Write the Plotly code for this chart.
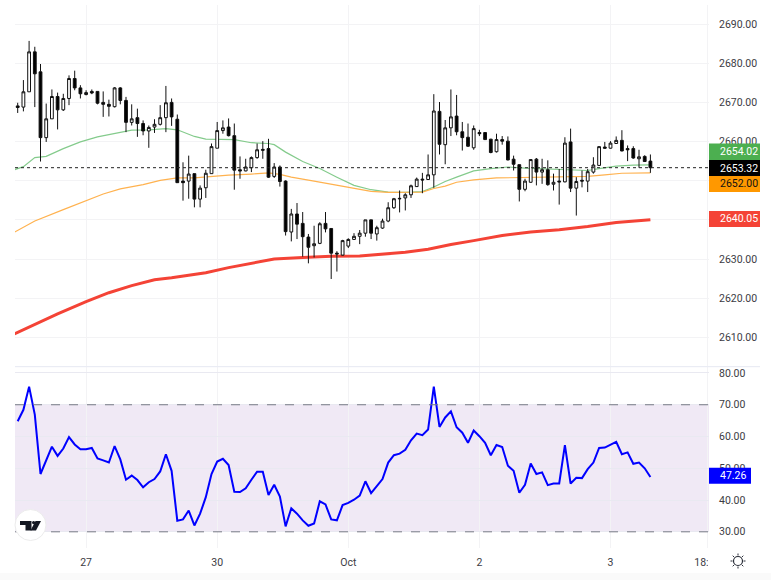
import math
import plotly.graph_objects as go

# OHLC (one candle per hour, index = position on the x axis)
opens = [2669.1, 2668.8, 2672.7, 2682.9, 2677.8, 2661.0, 2665.8, 2671.5, 2668.1, 2671.0,
         2676.1, 2673.7, 2672.0, 2672.8, 2672.8, 2670.0, 2669.5, 2668.9, 2673.7, 2670.5,
         2664.9, 2666.1, 2664.6, 2662.7, 2663.7, 2664.4, 2666.1, 2670.0, 2665.7, 2649.9,
         2649.9, 2651.8, 2645.3, 2648.2, 2651.8, 2658.3, 2662.8, 2663.7, 2661.5, 2652.8,
         2652.5, 2653.3, 2655.9, 2658.0, 2658.2, 2651.1, 2653.5, 2649.9, 2636.9, 2641.5,
         2639.1, 2635.6, 2633.4, 2634.0, 2639.1, 2637.8, 2631.5, 2631.0, 2633.3, 2635.0,
         2635.8, 2636.6, 2640.0, 2636.4, 2637.9, 2639.7, 2643.1, 2645.5, 2645.6, 2646.4,
         2648.5, 2650.4, 2650.3, 2651.5, 2667.7, 2659.2, 2663.5, 2666.5, 2662.5, 2661.1,
         2658.4, 2662.3, 2662.3, 2660.6, 2657.4, 2660.5, 2660.1, 2655.5, 2654.1, 2647.8,
         2649.6, 2655.5, 2652.2, 2652.8, 2649.1, 2649.9, 2649.7, 2659.9, 2648.1, 2650.1,
         2649.9, 2652.2, 2653.9, 2658.6, 2658.3, 2659.5, 2660.3, 2658.2, 2658.2, 2655.6,
         2656.2, 2655.0]
highs = [2669.9, 2675.7, 2685.7, 2684.2, 2679.8, 2669.7, 2673.3, 2672.5, 2672.2, 2676.9,
         2678.1, 2674.4, 2673.1, 2673.3, 2672.8, 2672.8, 2670.7, 2673.9, 2673.9, 2671.4,
         2669.5, 2668.4, 2665.4, 2664.1, 2665.7, 2669.3, 2674.2, 2671.0, 2666.9, 2654.7,
         2656.4, 2651.8, 2648.8, 2652.8, 2659.5, 2665.0, 2665.4, 2665.9, 2664.6, 2656.2,
         2655.6, 2656.2, 2659.5, 2660.1, 2660.7, 2654.5, 2653.9, 2650.1, 2642.8, 2644.3,
         2642.0, 2636.4, 2638.5, 2639.4, 2642.0, 2637.8, 2632.0, 2634.9, 2635.3, 2636.6,
         2637.4, 2640.0, 2640.0, 2638.5, 2640.3, 2644.5, 2645.6, 2647.5, 2646.8, 2649.0,
         2650.8, 2652.0, 2656.7, 2672.1, 2670.1, 2665.5, 2673.3, 2671.9, 2665.0, 2664.6,
         2664.1, 2663.0, 2662.3, 2660.7, 2662.0, 2661.4, 2661.3, 2656.4, 2654.1, 2650.5,
         2655.4, 2655.8, 2655.6, 2655.2, 2651.8, 2653.0, 2661.1, 2663.3, 2650.9, 2652.6,
         2653.0, 2656.0, 2658.8, 2659.9, 2660.1, 2661.3, 2662.9, 2659.0, 2658.8, 2657.9,
         2656.5, 2656.7]
lows = [2667.3, 2667.7, 2672.7, 2668.8, 2654.9, 2659.9, 2665.8, 2663.1, 2667.8, 2669.3,
        2673.1, 2671.0, 2671.8, 2672.1, 2669.5, 2666.3, 2666.4, 2668.7, 2669.5, 2662.4,
        2664.1, 2661.2, 2661.6, 2658.4, 2662.2, 2664.1, 2662.4, 2664.0, 2649.5, 2644.9,
        2645.4, 2643.2, 2643.2, 2645.6, 2651.8, 2658.3, 2662.0, 2661.3, 2647.7, 2650.5,
        2652.4, 2652.2, 2655.6, 2655.6, 2650.7, 2650.7, 2648.5, 2636.0, 2634.5, 2635.1,
        2630.6, 2628.9, 2630.4, 2633.8, 2636.8, 2624.9, 2626.8, 2630.9, 2632.8, 2634.9,
        2633.8, 2635.7, 2635.1, 2634.7, 2637.7, 2639.4, 2642.8, 2641.9, 2642.4, 2645.6,
        2648.4, 2646.8, 2650.2, 2648.2, 2656.7, 2654.2, 2661.4, 2661.6, 2657.7, 2658.6,
        2657.9, 2661.4, 2660.5, 2657.0, 2657.2, 2659.2, 2655.2, 2652.6, 2644.7, 2647.3,
        2649.5, 2648.8, 2649.2, 2648.7, 2647.5, 2643.9, 2649.6, 2647.1, 2641.1, 2648.3,
        2647.1, 2651.8, 2653.9, 2658.2, 2658.2, 2659.4, 2657.5, 2655.0, 2655.6, 2653.3,
        2654.8, 2652.0]
closes = [2668.7, 2672.7, 2682.9, 2677.3, 2661.0, 2665.8, 2671.5, 2668.1, 2671.0, 2676.1,
          2673.7, 2672.2, 2672.5, 2672.4, 2669.8, 2669.5, 2669.0, 2673.7, 2670.5, 2664.9,
          2665.8, 2664.6, 2662.7, 2663.6, 2664.4, 2666.1, 2669.9, 2666.3, 2649.5, 2649.5,
          2651.7, 2645.3, 2648.1, 2651.9, 2658.7, 2662.8, 2663.5, 2661.5, 2652.7, 2652.5,
          2653.5, 2655.9, 2657.9, 2657.8, 2650.9, 2653.5, 2649.8, 2637.0, 2641.5, 2638.9,
          2635.7, 2633.0, 2633.9, 2639.0, 2637.7, 2631.5, 2631.3, 2634.7, 2635.0, 2635.8,
          2636.6, 2640.0, 2636.6, 2638.0, 2639.7, 2643.1, 2645.4, 2645.4, 2646.4, 2648.7,
          2650.4, 2650.2, 2651.5, 2667.8, 2659.3, 2663.5, 2666.3, 2662.5, 2661.0, 2658.8,
          2663.3, 2662.0, 2660.5, 2657.2, 2660.5, 2660.1, 2655.3, 2654.2, 2647.8, 2649.9,
          2655.4, 2652.2, 2652.8, 2649.0, 2649.6, 2649.7, 2659.6, 2648.1, 2649.8, 2649.9,
          2652.3, 2654.0, 2658.7, 2658.3, 2659.6, 2660.3, 2657.6, 2657.9, 2655.8, 2656.1,
          2654.9, 2653.32]

# moving averages, read every few candles
green_idx = [-1, 1, 3, 5, 8, 11, 14, 17, 20, 23, 26, 28, 31, 33, 36, 38, 41, 44, 45, 47, 50, 53, 56, 59,
             62, 65, 68, 71, 73, 75, 77, 80, 83, 86, 89, 92, 95, 98, 100, 102, 105, 108, 111]
green_ma = [2652.6, 2653.6, 2655.9, 2656.2, 2658.2, 2659.9, 2661.2, 2662.0, 2662.9, 2663.0, 2663.3, 2663.0,
            2661.3, 2660.6, 2660.5, 2660.5, 2659.7, 2659.5, 2659.2, 2657.3, 2654.9, 2653.1, 2650.9, 2648.8,
            2647.7, 2647.1, 2647.0, 2647.2, 2648.4, 2649.8, 2650.9, 2652.5, 2653.1, 2653.5, 2653.2, 2653.0,
            2652.8, 2652.6, 2652.6, 2653.1, 2653.7, 2654.0, 2654.02]
orange_idx = [-1, 3, 8, 12, 15, 18, 22, 25, 28, 31, 34, 37, 41, 44, 46, 48, 52, 56, 59, 62, 65, 68, 71,
              73, 75, 77, 80, 84, 88, 92, 96, 100, 103, 106, 111]
orange_ma = [2636.5, 2639.7, 2642.6, 2644.8, 2646.6, 2647.9, 2649.0, 2650.1, 2650.7, 2650.7, 2651.1, 2651.4,
             2651.7, 2652.0, 2651.6, 2650.9, 2649.9, 2648.8, 2648.0, 2647.3, 2647.0, 2647.0, 2647.1, 2648.0,
             2648.6, 2649.6, 2650.2, 2650.7, 2650.8, 2650.8, 2650.9, 2651.1, 2651.5, 2651.9, 2652.0]
red_idx = [-1, 3, 7, 12, 16, 20, 24, 27, 30, 33, 37, 41, 45, 50, 55, 60, 64, 68, 72, 76, 80, 85, 90, 95,
           100, 105, 111]
red_ma = [2610.6, 2613.4, 2616.0, 2619.1, 2621.4, 2623.2, 2624.7, 2625.2, 2625.9, 2626.5, 2627.8, 2628.9,
          2630.0, 2630.4, 2630.7, 2630.8, 2631.2, 2631.7, 2632.5, 2633.7, 2634.7, 2636.0, 2636.9, 2637.5,
          2638.3, 2639.3, 2640.05]

rsi = [64.8, 68.4, 75.7, 66.9, 48.2, 52.5, 56.8, 53.9, 56.2, 59.8, 57.5, 56.0, 56.0, 56.4, 53.1, 52.5,
       51.8, 57.0, 52.8, 46.4, 47.7, 46.3, 44.0, 45.6, 46.6, 49.0, 54.4, 49.2, 33.5, 33.9, 36.7, 32.0,
       35.7, 40.9, 48.2, 52.1, 53.0, 51.0, 42.6, 42.5, 43.7, 46.4, 48.9, 48.9, 41.6, 44.8, 41.1, 31.7,
       37.4, 35.7, 33.6, 31.9, 32.6, 39.6, 38.6, 33.9, 33.6, 38.4, 39.1, 40.1, 41.4, 45.9, 42.2, 44.4,
       46.6, 51.8, 54.1, 54.6, 55.8, 58.8, 60.9, 60.4, 62.2, 75.7, 63.0, 66.0, 67.9, 62.9, 61.2, 58.0,
       61.9, 60.1, 58.0, 54.1, 57.3, 56.7, 50.8, 49.2, 42.3, 44.8, 51.5, 48.2, 48.7, 44.7, 45.2, 45.2,
       57.3, 45.2, 47.0, 46.9, 49.7, 51.8, 56.4, 56.5, 57.5, 58.3, 54.4, 55.0, 51.4, 51.8, 50.0, 47.26]

# axis ticks
date_ticks = [12, 35, 58, 81, 104, 121]
date_labels = ["27", "30", "Oct", "2", "3", "18:00"]
price_ticks = [2610, 2620, 2630, 2640, 2650, 2660, 2670, 2680, 2690]
# 2640 and 2650 sit behind the tags in the original, only their grid lines show
price_labels = ["2610.00", "2620.00", "2630.00", "", "", "2660.00", "2670.00", "2680.00", "2690.00"]
rsi_ticks = [30, 40, 50, 60, 70, 80]

# last values shown on the price scale
last_green = 2654.02
last_price = 2653.32
last_orange = 2652.00
last_red = 2640.05
last_rsi = 47.26

W, H = 771, 580
GRID = "#f3f3f5"
TEXT = "#3c3c44"
FONT = "Roboto"


# pixel position -> paper coordinates
def pxx(p):
    return p / W


def pxy(p):
    return 1 - p / H


candle_idx = list(range(len(opens)))

fig = go.Figure()

# lines go under the candles
fig.add_trace(go.Scatter(x=green_idx, y=green_ma, mode="lines", zorder=-1,
                         line=dict(color="#84cb8c", width=1.2)))
fig.add_trace(go.Scatter(x=orange_idx, y=orange_ma, mode="lines", zorder=-1,
                         line=dict(color="#ffb24f", width=1.2)))
fig.add_trace(go.Scatter(x=red_idx, y=red_ma, mode="lines", zorder=-1,
                         line=dict(color="#f44336", width=3)))
fig.add_trace(go.Candlestick(x=candle_idx, open=opens, high=highs, low=lows, close=closes,
                             increasing=dict(fillcolor="#ffffff", line=dict(color="#111111", width=1)),
                             decreasing=dict(fillcolor="#000000", line=dict(color="#111111", width=1)),
                             whiskerwidth=0))
fig.add_trace(go.Scatter(x=candle_idx, y=rsi, mode="lines", xaxis="x2", yaxis="y2",
                         line=dict(color="#0000ff", width=2)))

shapes = []

# last price dotted line
shapes.append(dict(type="line", xref="paper", yref="y", x0=pxx(15), x1=pxx(709),
                   y0=last_price, y1=last_price, line=dict(color="#222222", width=1, dash="dot")))

# RSI band and its limits
shapes.append(dict(type="rect", xref="paper", yref="y2", x0=pxx(15), x1=pxx(709), y0=30, y1=70,
                   fillcolor="rgba(130,70,170,0.12)", line=dict(width=0), layer="below"))
for level in [30, 70]:
    shapes.append(dict(type="line", xref="paper", yref="y2", x0=pxx(15), x1=pxx(709), y0=level, y1=level,
                       line=dict(color="#787b86", width=1, dash="dash")))

# pane separator
shapes.append(dict(type="line", xref="paper", yref="paper", x0=pxx(15), x1=pxx(760), y0=pxy(366.7), y1=pxy(366.7),
                   line=dict(color="#e6e8f2", width=1)))

# hide the part of 18:00 that runs past the pane, light strip at the bottom
shapes.append(dict(type="rect", xref="paper", yref="paper", x0=pxx(708), x1=pxx(771), y0=pxy(549), y1=pxy(573),
                   fillcolor="#ffffff", line=dict(width=0)))
shapes.append(dict(type="rect", xref="paper", yref="paper", x0=0, x1=1, y0=pxy(573), y1=0,
                   fillcolor="#fafafa", line=dict(width=0)))

# price scale tags
tags = [(last_green, "y", 143.5, 160, "#4caf50", "#ffffff", 709, 760),
        (last_price, "y", 160, 176, "#000000", "#ffffff", 709, 760),
        (last_orange, "y", 176, 192, "#ff9800", "#111111", 709, 760),
        (last_red, "y", 211, 227, "#f44336", "#ffffff", 709, 760),
        (last_rsi, "y2", 467.7, 483.7, "#0000ff", "#ffffff", 709, 751)]
annotations = []
for value, axis, top, bottom, bg, fg, left, right in tags:
    shapes.append(dict(type="rect", xref="paper", yref="paper", x0=pxx(left), x1=pxx(right),
                       y0=pxy(top), y1=pxy(bottom), fillcolor=bg, line=dict(width=0)))
    annotations.append(dict(text=f"{value:.2f}", xref="paper", yref="paper", x=pxx(718.3),
                            y=pxy((top + bottom) / 2), xanchor="left", yanchor="middle", showarrow=False,
                            font=dict(family=FONT, size=10.5, color=fg)))

# TradingView badge
shapes.append(dict(type="circle", xref="paper", yref="paper", x0=pxx(15), x1=pxx(46), y0=pxy(509.5), y1=pxy(540.5),
                   fillcolor="#ffffff", line=dict(color="#ececec", width=1)))
logo_t = [(20, 521), (31.5, 521), (31.5, 530.5), (25.5, 530.5), (25.5, 525), (20, 525)]
logo_v = [(35.5, 521), (41, 521), (36, 530.5), (30.5, 530.5)]
for poly in [logo_t, logo_v]:
    path = "M " + " L ".join(f"{pxx(x):.5f},{pxy(y):.5f}" for x, y in poly) + " Z"
    shapes.append(dict(type="path", xref="paper", yref="paper", path=path, fillcolor="#131722", line=dict(width=0)))
shapes.append(dict(type="circle", xref="paper", yref="paper", x0=pxx(32), x1=pxx(35.2), y0=pxy(521), y1=pxy(524.2),
                   fillcolor="#131722", line=dict(width=0)))

# settings sun icon
sun_x, sun_y = 738, 561
shapes.append(dict(type="circle", xref="paper", yref="paper", x0=pxx(sun_x - 4.5), x1=pxx(sun_x + 4.5),
                   y0=pxy(sun_y - 4.5), y1=pxy(sun_y + 4.5), line=dict(color="#2a2e39", width=1.2)))
for k in range(8):
    a = k * math.pi / 4
    shapes.append(dict(type="line", xref="paper", yref="paper",
                       x0=pxx(sun_x + 5.5 * math.cos(a)), x1=pxx(sun_x + 7.5 * math.cos(a)),
                       y0=pxy(sun_y + 5.5 * math.sin(a)), y1=pxy(sun_y + 7.5 * math.sin(a)),
                       line=dict(color="#2a2e39", width=1)))

x_range = [-0.474, 121.28]

fig.update_layout(
    width=W, height=H,
    margin=dict(l=0, r=0, t=0, b=0, autoexpand=False),
    paper_bgcolor="#ffffff", plot_bgcolor="#ffffff",
    showlegend=False, hovermode=False,
    shapes=shapes, annotations=annotations,
    xaxis=dict(domain=[pxx(15), pxx(709)], range=x_range, anchor="y", rangeslider=dict(visible=False),
               tickvals=date_ticks, showticklabels=False, ticks="", automargin=False,
               showgrid=True, gridcolor=GRID, gridwidth=1, zeroline=False, showline=False),
    xaxis2=dict(domain=[pxx(15), pxx(709)], range=x_range, anchor="y2", tickmode="array",
                tickvals=date_ticks, ticktext=date_labels, ticks="", ticklabelstandoff=6, automargin=False,
                tickfont=dict(family=FONT, size=10.5, color=TEXT),
                showgrid=True, gridcolor=GRID, gridwidth=1, zeroline=False, showline=False),
    yaxis=dict(domain=[pxy(366), pxy(5)], range=[2602.68, 2694.87], anchor="x", side="right",
               tickmode="array", tickvals=price_ticks, ticktext=price_labels, ticks="", ticklabelstandoff=9,
               automargin=False, tickfont=dict(family=FONT, size=10.5, color=TEXT),
               showgrid=True, gridcolor=GRID, gridwidth=1, zeroline=False, showline=False),
    yaxis2=dict(domain=[pxy(548), pxy(367)], range=[24.9, 81.88], anchor="x2", side="right",
                tickvals=rsi_ticks, tickformat=".2f", ticks="", ticklabelstandoff=9, automargin=False,
                tickfont=dict(family=FONT, size=10.5, color=TEXT),
                showgrid=True, gridcolor="#e9e9f1", gridwidth=1, zeroline=False, showline=False),
)

fig.write_html("out.html", config={"displayModeBar": False, "responsive": False},
               post_script="document.body.style.margin='0';document.body.style.overflow='hidden';")
